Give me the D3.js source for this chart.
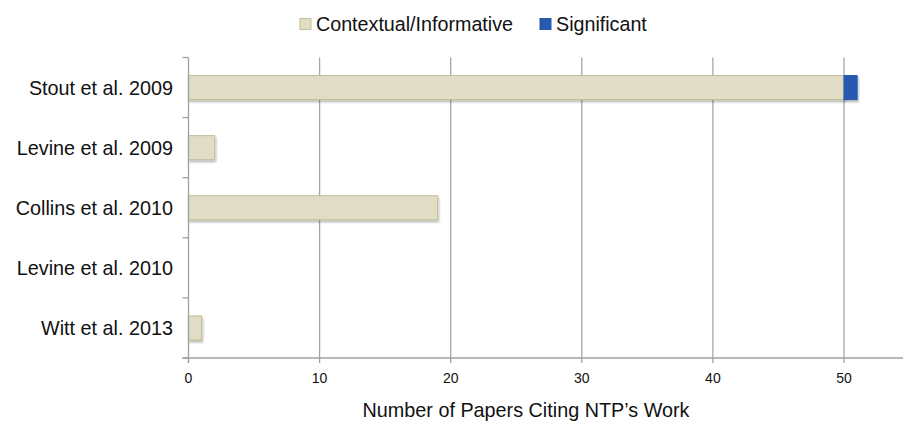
<!DOCTYPE html>
<html><head><meta charset="utf-8">
<script src="https://cdn.jsdelivr.net/npm/d3@7"></script>
<style>body{margin:0;background:#fff}svg{display:block;font-family:"Liberation Sans",Arial,sans-serif}</style>
</head><body><svg id="c" width="903" height="422"></svg>
<script>
const categories = ["Stout et al. 2009","Levine et al. 2009","Collins et al. 2010","Levine et al. 2010","Witt et al. 2013"];
const contextual = [50, 2, 19, 0, 1];
const significant = [1, 0, 0, 0, 0];
const seriesNames = ["Contextual/Informative","Significant"];
const seriesColors = ["#e1dcc6","#2659b0"];
const seriesStroke = ["#c3bf98","#2659b0"];
const xTicks = [0,10,20,30,40,50];
const xTitle = "Number of Papers Citing NTP\u2019s Work";

(function(){
const svg = d3.select("#c");
const pLeft = 188.5, pTop = 57.5, pBottom = 358;
const x = d3.scaleLinear().domain([0,55]).range([pLeft, pLeft + 55*13.11]);
const y = d3.scaleBand().domain(categories).range([pTop, pBottom]).paddingInner(0.6).paddingOuter(0.3);
const yb = d3.scaleBand().domain(categories).range([pTop, pBottom]);

const defs = svg.append("defs");
const f = defs.append("filter").attr("id","sh").attr("x","-10%").attr("y","-20%").attr("width","130%").attr("height","160%");
f.append("feDropShadow").attr("dx",1).attr("dy",2).attr("stdDeviation",1.2).attr("flood-color","#000").attr("flood-opacity",0.3);

// gridlines
svg.append("g").selectAll("line").data(xTicks.filter(d=>d>0)).join("line")
  .attr("x1",d=>x(d)).attr("x2",d=>x(d)).attr("y1",pTop).attr("y2",pBottom)
  .attr("stroke","#a6a6a6").attr("stroke-width",1.3);

// stacked bars
const rows = categories.map((c,i)=>({c, v:[contextual[i], significant[i]]}));
const bars = svg.append("g");
rows.forEach(r=>{
  let acc = 0;
  r.v.forEach((v,k)=>{
    if(v>0){
      bars.append("rect").attr("x",x(acc)).attr("y",y(r.c)).attr("width",x(acc+v)-x(acc)).attr("height",y.bandwidth())
        .attr("fill",seriesColors[k]).attr("stroke",seriesStroke[k]).attr("stroke-width",1).attr("filter","url(#sh)");
    }
    acc += v;
  });
});

// y axis
const ya = svg.append("g");
ya.append("line").attr("x1",pLeft).attr("x2",pLeft).attr("y1",pTop).attr("y2",pBottom+5).attr("stroke","#a0a0a0").attr("stroke-width",1.3);
ya.selectAll("line.t").data(d3.range(categories.length+1)).join("line").attr("class","t")
  .attr("x1",pLeft-6).attr("x2",pLeft).attr("y1",i=>pTop+i*yb.step()).attr("y2",i=>pTop+i*yb.step())
  .attr("stroke","#a0a0a0").attr("stroke-width",1.3);
ya.selectAll("text").data(categories).join("text")
  .attr("x",173).attr("y",d=>yb(d)+yb.bandwidth()/2).attr("dy","0.36em")
  .attr("text-anchor","end").attr("font-size",19.8).attr("fill","#111").text(d=>d);

// x axis
const xa = svg.append("g");
xa.append("line").attr("x1",pLeft-6).attr("x2",903).attr("y1",pBottom).attr("y2",pBottom).attr("stroke","#a0a0a0").attr("stroke-width",1.3);
xa.selectAll("line.t").data(xTicks).join("line").attr("class","t")
  .attr("x1",d=>x(d)).attr("x2",d=>x(d)).attr("y1",pBottom).attr("y2",pBottom+5).attr("stroke","#a0a0a0").attr("stroke-width",1.3);
xa.selectAll("text").data(xTicks).join("text")
  .attr("x",d=>x(d)).attr("y",383).attr("text-anchor","middle").attr("font-size",14).attr("fill","#111").text(d=>d);
svg.append("text").attr("x",526).attr("y",417).attr("text-anchor","middle").attr("font-size",19.8).attr("fill","#111").text(xTitle);

// legend
const lg = svg.append("g");
const lx = [300, 540];
seriesNames.forEach((n,k)=>{
  lg.append("rect").attr("x",lx[k]).attr("y",18.5).attr("width",11).attr("height",11)
    .attr("fill",seriesColors[k]).attr("stroke",seriesStroke[k]);
  lg.append("text").attr("x",lx[k]+16).attr("y",31).attr("font-size",19.7).attr("fill","#111").text(n);
});
})();
</script></body></html>
